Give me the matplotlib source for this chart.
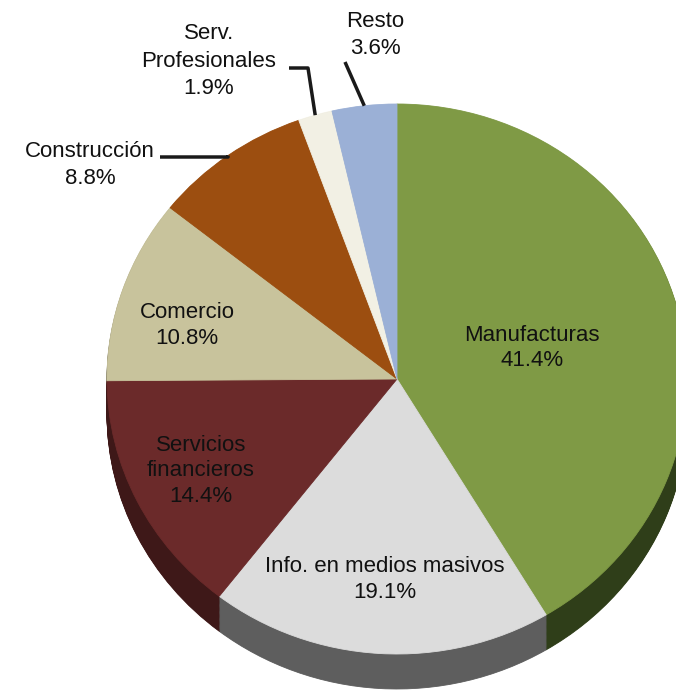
import matplotlib.pyplot as plt
import numpy as np

# share of each sector (%)
sectors = ["Manufacturas", "Info. en medios masivos", "Servicios\nfinancieros",
           "Comercio", "Construcción", "Serv.\nProfesionales", "Resto"]
shares = [41.4, 19.1, 14.4, 10.8, 8.8, 1.9, 3.6]

top_colors = ["#7f9a45", "#dcdcdc", "#6b2a2a", "#c8c39c", "#9c4e10", "#f2f0e4", "#9bb0d6"]
side_colors = ["#2f3e19", "#5e5e5e", "#3e1818", "#7a7660", "#5a2d08", "#9a988e", "#5d6a80"]

plt.rcParams["font.family"] = ["Liberation Sans", "DejaVu Sans"]

W, H = 676, 692
cx, cy = 397, 379      # pie centre in pixels (from top-left)
rx, ry = 290, 275      # horizontal / vertical radius in pixels
depth = 35             # thickness of the 3d side in pixels

fig = plt.figure(figsize=(W / 100, H / 100), dpi=100)
ax = fig.add_axes([0, 0, 1, 1])


def px(x, y):
    # pixel position -> data coords (pie radius 1 in both directions)
    return (x - cx) / rx, (cy - y) / ry


def draw_pie(colors, offset):
    ws, _ = ax.pie(shares, colors=colors, startangle=90, counterclock=False,
                   center=(0, offset), radius=1, wedgeprops=dict(linewidth=0.6))
    for w in ws:
        w.set_edgecolor(w.get_facecolor())
    return ws


# side wall: stacked copies of the pie going down
n_layers = 40
for k in range(n_layers, 0, -1):
    draw_pie(side_colors, -depth / ry * k / n_layers)

wedges = draw_pie(top_colors, 0)

ax.set_aspect("auto")
ax.set_xlim(px(0, 0)[0], px(W, 0)[0])
ax.set_ylim(px(0, H)[1], px(0, 0)[1])
ax.axis("off")


def mid_angle(w):
    return np.deg2rad((w.theta1 + w.theta2) / 2)


# labels inside the slices: (distance from centre, angle shift in degrees)
inner = {0: (0.48, -2), 1: (0.73, 0), 2: (0.755, 0), 3: (0.75, 4)}
for i, (r, shift) in inner.items():
    a = mid_angle(wedges[i]) + np.deg2rad(shift)
    ax.text(r * np.cos(a), r * np.sin(a), f"{sectors[i]}\n{shares[i]}%",
            ha="center", va="center", fontsize=16, color="#111111",
            linespacing=1.28)

# labels outside with leader lines
outer = {
    4: dict(text=(90, 165), path=[(160, 157), (228, 157)]),
    5: dict(text=(209, 61), path=[(289, 68), (308, 68)]),
    6: dict(text=(375, 35), path=[(345, 62)]),
}
for i, o in outer.items():
    a = mid_angle(wedges[i])
    edge = (np.cos(a), np.sin(a))
    pts = [px(*p) for p in o["path"]] + [edge]
    xs, ys = zip(*pts)
    ax.plot(xs, ys, color="#1a1a1a", lw=2.5, solid_capstyle="butt")
    tx, ty = px(*o["text"])
    ax.text(tx, ty, f"{sectors[i]}\n{shares[i]}%", ha="center", va="center",
            fontsize=16, color="#111111", linespacing=1.4)

fig.savefig("out.png", dpi=100)
plt.close(fig)
